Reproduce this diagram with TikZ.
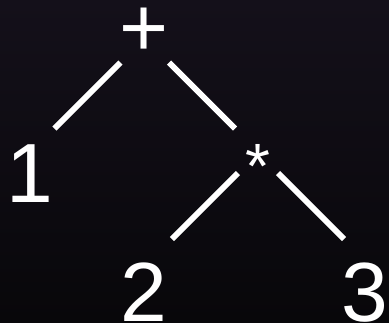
\documentclass[tikz,border=0pt]{standalone}
\usepackage{fontspec}
\setmainfont{Liberation Sans}
\begin{document}
\begin{tikzpicture}[x=1pt,y=-1pt,
  lbl/.style={text=white,inner sep=0pt,anchor=base,text height=0.72em,text depth=0pt,font=\fontsize{84}{84}\selectfont},
  edge/.style={draw=white,line width=6pt,line cap=butt}]
\shade[top color={rgb,255:red,20;green,16;blue,26},bottom color={rgb,255:red,8;green,7;blue,10}] (0,0) rectangle (389,322);
\useasboundingbox (0,0) rectangle (389,322);
\node[lbl,text height=0.6em] (plus) at (144.5,56.6) {+};
\node[lbl] (one) at (29.4,202) {1};
\node[lbl,font=\fontsize{64}{64}\selectfont] (times) at (258,188) {*};
\node[lbl] (two) at (144,321) {2};
\node[lbl] (three) at (365.1,321) {3};
\coordinate (plusL) at (120.5,62.5);
\coordinate (oneT) at (54.5,128.5);
\coordinate (plusR) at (169,62.5);
\coordinate (timesT) at (235,128.5);
\coordinate (timesL) at (238,173);
\coordinate (twoT) at (172,239);
\coordinate (timesR) at (278,173);
\coordinate (threeT) at (344,239);
\draw[edge] (plusL) -- (oneT);
\draw[edge] (plusR) -- (timesT);
\draw[edge] (timesL) -- (twoT);
\draw[edge] (timesR) -- (threeT);
\end{tikzpicture}
\end{document}
